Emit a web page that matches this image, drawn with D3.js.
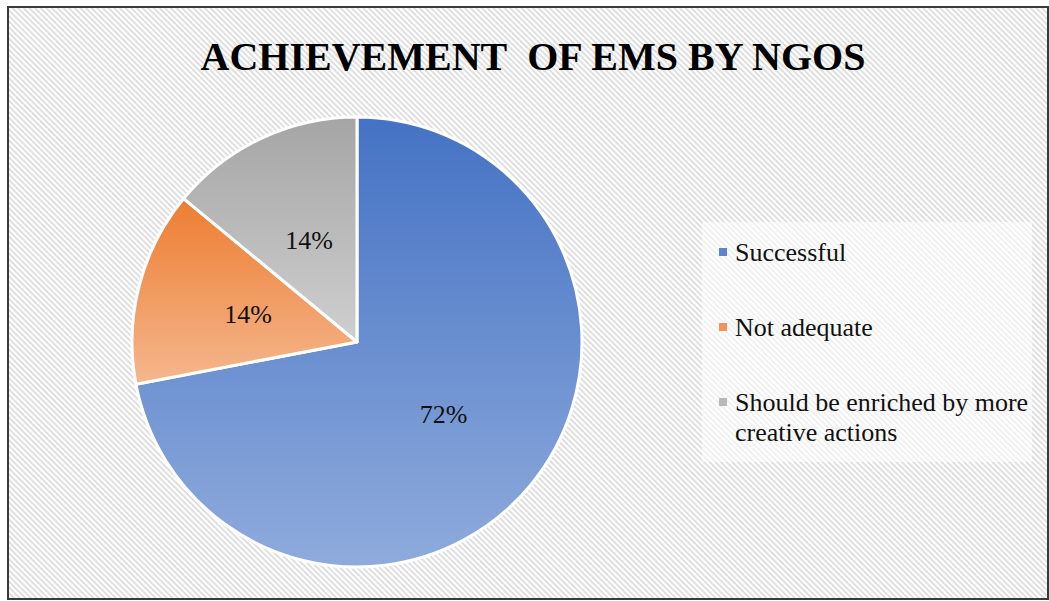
<!DOCTYPE html>
<html>
<head>
<meta charset="utf-8">
<script src="https://cdn.jsdelivr.net/npm/d3@7"></script>
<style>
  html, body { margin: 0; padding: 0; background: #fff; }
  svg { display: block; }
</style>
</head>
<body>
<svg id="chart"></svg>
<script>
// chart data
const categories = ["Successful", "Not adequate", "Should be enriched by more creative actions"];
const shares = [72, 14, 14];
const legendLines = [["Successful"], ["Not adequate"], ["Should be enriched by more", "creative actions"]];
const title = "ACHIEVEMENT\u00a0 OF EMS BY NGOS";

const width = 1049, height = 601;
const serif = "'Liberation Serif', 'Times New Roman', serif";

const svg = d3.select("#chart")
    .attr("width", width)
    .attr("height", height);

const defs = svg.append("defs");

// striped chart area background
const stripes = defs.append("pattern")
    .attr("id", "stripes")
    .attr("patternUnits", "userSpaceOnUse")
    .attr("width", 4)
    .attr("height", 4)
    .attr("patternTransform", "rotate(45)");
stripes.append("rect").attr("width", 4).attr("height", 4).attr("fill", "#ffffff");
stripes.append("rect").attr("width", 4).attr("height", 1.8).attr("fill", "#dcdcdc");

// vertical gradients for each slice
const gradStops = [
    ["#4472c4", "#8fabdc"],
    ["#ed7d31", "#f5b78e"],
    ["#a5a5a5", "#cfcfcf"]
];
gradStops.forEach((g, i) => {
    const lg = defs.append("linearGradient")
        .attr("id", "grad" + i)
        .attr("x1", 0).attr("y1", 0)
        .attr("x2", 0).attr("y2", 1);
    lg.append("stop").attr("offset", "0%").attr("stop-color", g[0]);
    lg.append("stop").attr("offset", "100%").attr("stop-color", g[1]);
});

svg.append("rect")
    .attr("width", width)
    .attr("height", height)
    .attr("fill", "#ffffff");

// chart frame
svg.append("rect")
    .attr("x", 8)
    .attr("y", 7)
    .attr("width", 1040)
    .attr("height", 592)
    .attr("fill", "url(#stripes)")
    .attr("stroke", "#3a3a3a")
    .attr("stroke-width", 2);

// title
svg.append("text")
    .attr("x", 533)
    .attr("y", 70)
    .attr("text-anchor", "middle")
    .attr("font-family", serif)
    .attr("font-weight", "bold")
    .attr("font-size", "40px")
    .attr("fill", "#000")
    .text(title);

// pie
const cx = 357, cy = 342, radius = 225;
const color = d3.scaleOrdinal().domain(categories).range(d3.range(categories.length).map(i => `url(#grad${i})`));

const pie = d3.pie().sort(null).value(d => d.value);
const arcs = pie(categories.map((c, i) => ({ name: c, value: shares[i] })));
const arc = d3.arc().innerRadius(0).outerRadius(radius);
const labelArc = d3.arc().innerRadius(radius * 0.5).outerRadius(radius * 0.5);

const g = svg.append("g").attr("transform", `translate(${cx},${cy})`);

g.selectAll("path.slice")
    .data(arcs)
    .join("path")
    .attr("class", "slice")
    .attr("d", arc)
    .attr("fill", d => color(d.data.name))
    .attr("stroke", "#ffffff")
    .attr("stroke-width", 3)
    .attr("stroke-linejoin", "round");

g.selectAll("text.pct")
    .data(arcs)
    .join("text")
    .attr("class", "pct")
    .attr("transform", d => `translate(${labelArc.centroid(d)})`)
    .attr("text-anchor", "middle")
    .attr("dy", "0.35em")
    .attr("font-family", serif)
    .attr("font-size", "26px")
    .attr("fill", "#111")
    .text(d => d.data.value + "%");

// legend
const legendColors = ["#5b84cc", "#f09359", "#b8b8b8"];
const legendY = d3.scalePoint().domain(categories).range([252, 402]);

svg.append("rect")
    .attr("x", 702)
    .attr("y", 222)
    .attr("width", 330)
    .attr("height", 240)
    .attr("fill", "#ffffff")
    .attr("opacity", 0.55);

const legend = svg.append("g");
categories.forEach((c, i) => {
    const y = legendY(c);
    legend.append("rect")
        .attr("x", 719)
        .attr("y", y - 4)
        .attr("width", 8)
        .attr("height", 8)
        .attr("fill", legendColors[i]);
    const t = legend.append("text")
        .attr("x", 735)
        .attr("y", y + 9)
        .attr("font-family", serif)
        .attr("font-size", "26px")
        .attr("fill", "#111");
    legendLines[i].forEach((line, j) => {
        t.append("tspan")
            .attr("x", 735)
            .attr("dy", j === 0 ? 0 : 30)
            .text(line);
    });
});
</script>
</body>
</html>
